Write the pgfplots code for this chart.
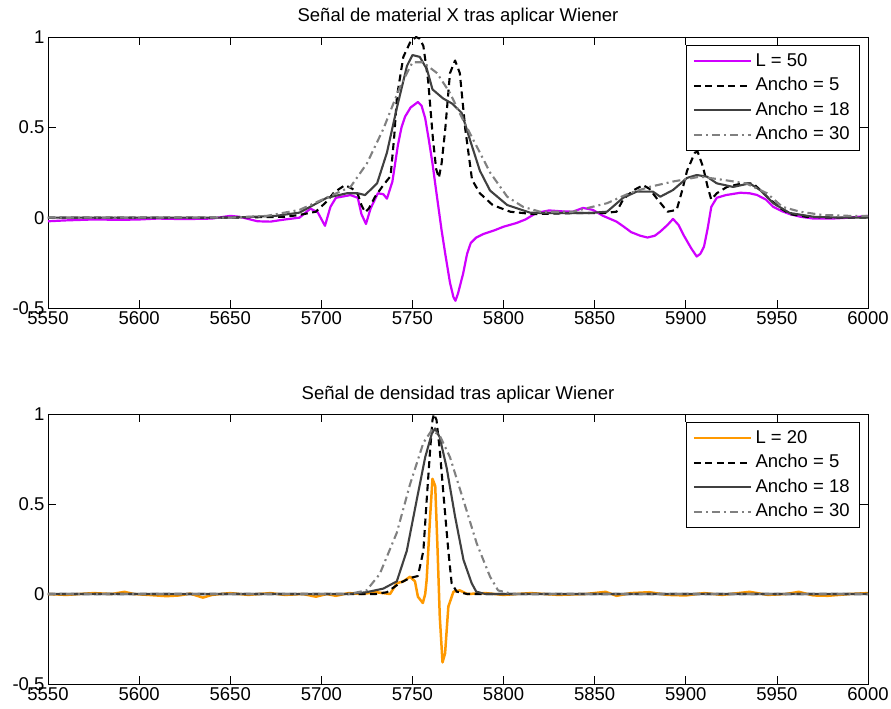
\documentclass[border=0pt]{standalone}
\usepackage{pgfplots}
\pgfplotsset{compat=1.18}
\usepackage{fontspec}
\setmainfont{Liberation Sans}
\definecolor{mag}{RGB}{208,0,255}
\definecolor{org}{RGB}{255,153,0}
\definecolor{dg}{RGB}{64,64,64}
\definecolor{lg}{RGB}{128,128,128}
\newcommand{\fs}{\fontsize{18.5}{22}\selectfont}
\pgfplotsset{
  mystyle/.style={
    scale only axis, width=820pt, height=271pt,
    xmin=5550, xmax=6000, ymin=-0.5, ymax=1,
    xtick={5550,5600,...,6000}, ytick={-0.5,0,0.5,1},
    scaled x ticks=false,
    xticklabel style={/pgf/number format/1000 sep={}},
    /pgf/number format/assume math mode=true,
    tick label style={font=\fs},
    yticklabel style={/pgf/number format/fixed},
    title style={font=\fs, at={(0.5,1)}, anchor=base, yshift=9pt},
    axis line style={black, line width=0.7pt},
    major tick style={black, line width=0.7pt},
    major tick length=8pt,
    tick align=inside,
    legend cell align=left,
    legend image code/.code={\draw[##1] (0pt,0pt) -- (57pt,0pt);},
    legend style={at={(1,1)}, anchor=north east, xshift=-8pt, yshift=-8pt,
      draw=black, line width=0.7pt, fill=white, font=\fs,
      inner xsep=6.5pt, inner ysep=3.5pt, row sep=0pt,
      nodes={inner xsep=3.5pt, inner ysep=3.25pt, text height=14pt, text depth=4pt}},
    every axis plot/.append style={line join=round},
  },
  s50/.style={mag, line width=2.2pt},
  s20/.style={org, line width=2.5pt},
  a5/.style={black, line width=2.1pt, dash pattern=on 7pt off 4.5pt},
  a18/.style={dg, line width=2.1pt},
  a30/.style={lg, line width=2.1pt, dash pattern=on 8pt off 4pt on 2pt off 4pt},
}
\begin{document}
\begin{tikzpicture}
\begin{axis}[mystyle, name=top, at={(0,0)}, anchor=north west,
  title={Señal de material X tras aplicar Wiener}]
\addplot[s50] coordinates {
(5550,-0.02) (5560,-0.015) (5575,-0.01) (5590,-0.012) (5600,-0.01) (5610,-0.005)
(5625,-0.008) (5640,-0.005) (5650,0.01) (5655,0.005) (5665,-0.02) (5672,-0.022)
(5680,-0.01) (5688,0.0) (5694,0.05) (5698,0.03) (5702,-0.045) (5705,0.06)
(5708,0.11) (5716,0.125) (5720,0.11) (5722,0.02) (5724.5,-0.035) (5727,0.05)
(5731,0.135) (5734,0.13) (5736,0.105) (5739,0.2) (5742,0.4) (5744,0.5)
(5746,0.56) (5749,0.61) (5753,0.64) (5755,0.62) (5757,0.55) (5759,0.43)
(5761,0.30) (5763,0.15) (5766,-0.07) (5768,-0.2) (5770.6,-0.36) (5772.5,-0.44)
(5773.6,-0.46) (5775,-0.42) (5777.8,-0.31) (5780,-0.2) (5782,-0.14) (5785,-0.11)
(5789,-0.09) (5795,-0.07) (5800,-0.05) (5807,-0.03) (5812,-0.01) (5818,0.026)
(5825,0.04) (5832,0.035) (5838,0.033) (5843.6,0.054) (5849,0.043) (5854.6,0.01)
(5862,-0.022) (5866,-0.05) (5870,-0.08) (5875,-0.1) (5879,-0.11) (5883,-0.1)
(5886,-0.077) (5890,-0.04) (5893,-0.007) (5896,-0.04) (5899,-0.1) (5903,-0.17)
(5906,-0.215) (5908,-0.2) (5910,-0.16) (5912,-0.06) (5914,0.06) (5917,0.11)
(5922,0.125) (5930,0.138) (5935,0.135) (5939,0.126) (5944,0.1) (5948,0.06)
(5953,0.035) (5957,0.02) (5963,0.005) (5970,-0.005) (5980,-0.005) (5990,0.0) (6000,0.01)
};
\addlegendentry{L = 50}
\addplot[a5] coordinates {
(5550,0) (5600,0) (5650,0) (5680,0.005) (5688,0.015) (5697,0.033) (5703,0.09)
(5707,0.14) (5713,0.18) (5717,0.16) (5720,0.13) (5722,0.07) (5724,0.03) (5726,0.05)
(5729.5,0.116) (5734,0.18) (5738,0.23) (5740,0.45) (5741.5,0.67) (5745,0.89)
(5748.7,0.97) (5752,1.0) (5754,0.99) (5756,0.95) (5758.6,0.76) (5761.3,0.43)
(5763,0.27) (5764.5,0.22) (5766,0.3) (5768,0.49) (5770.6,0.8) (5773.4,0.87)
(5776,0.8) (5779,0.49) (5782.7,0.21) (5787,0.135) (5794,0.07) (5803.6,0.033)
(5816,0.02) (5842,0.026) (5855,0.025) (5862,0.033) (5865.6,0.1) (5871,0.15)
(5876.6,0.18) (5880,0.16) (5884.6,0.1) (5890,0.033) (5895,0.043) (5898,0.15)
(5900.7,0.26) (5905,0.36) (5906.5,0.365) (5909.5,0.28) (5912,0.17) (5914,0.1)
(5917,0.135) (5922.6,0.17) (5931,0.19) (5937,0.19) (5944.6,0.116) (5951.7,0.054)
(5957,0.02) (5966,0.005) (5980,0) (6000,0)
};
\addlegendentry{Ancho = 5}
\addplot[a18] coordinates {
(5550,0) (5650,0) (5675,0.01) (5688,0.028) (5703,0.11) (5714,0.135) (5720,0.135)
(5724,0.125) (5730.6,0.19) (5736,0.36) (5741.5,0.61) (5747,0.84) (5750,0.9)
(5754,0.89) (5758,0.82) (5761,0.71) (5766.8,0.66) (5772,0.63) (5777,0.58)
(5781.6,0.43) (5787,0.26) (5792.6,0.15) (5802,0.07) (5814.5,0.028) (5820,0.026)
(5847,0.026) (5856.8,0.033) (5865.6,0.11) (5873,0.144) (5882,0.144) (5886,0.116)
(5893,0.153) (5900.7,0.22) (5906,0.236) (5911.6,0.227) (5917,0.19) (5926,0.17)
(5935,0.19) (5940.8,0.153) (5948,0.08) (5957,0.026) (5970,0.005) (5985,0) (6000,0)
};
\addlegendentry{Ancho = 18}
\addplot[a30] coordinates {
(5550,0) (5650,0) (5670,0.01) (5688,0.043) (5706,0.125) (5716,0.17) (5725,0.3)
(5734,0.49) (5743,0.72) (5750,0.86) (5755.8,0.86) (5763.5,0.8) (5770.6,0.69)
(5777.8,0.54) (5785.5,0.39) (5792.6,0.25) (5802,0.116) (5810.7,0.06) (5820,0.033)
(5838,0.033) (5856.8,0.08) (5869,0.135) (5880,0.17) (5893,0.2) (5907.8,0.227)
(5920,0.21) (5933,0.19) (5944.6,0.135) (5953,0.06) (5962.7,0.033) (5975,0.015)
(5990,0.01) (6000,0.01)
};
\addlegendentry{Ancho = 30}
\end{axis}
\begin{axis}[mystyle, height=270pt, at={(top.north west)}, anchor=north west, yshift=-377pt,
  title={Señal de densidad tras aplicar Wiener}]
\addplot[s20] coordinates {
(5550,0) (5560,-0.005) (5575,0.005) (5585,0) (5592,0.012) (5597,0) (5605,-0.005)
(5615,-0.012) (5622,-0.008) (5628,0.002) (5635,-0.02) (5640,-0.005) (5650,0.005)
(5660,-0.005) (5672,0.005) (5680,-0.005) (5690,0) (5697,-0.015) (5703,0)
(5708,-0.01) (5715,0.005) (5722,0) (5730,0.01) (5737.7,0) (5741.4,0.06)
(5745,0.07) (5748.7,0.096) (5751.4,0.07) (5753,-0.015) (5755.7,-0.05) (5757,0.0)
(5757.8,0.078) (5759.7,0.43) (5761,0.64) (5762.5,0.6) (5763.8,0.24) (5765,-0.126)
(5766.5,-0.38) (5767.9,-0.33) (5769.7,-0.07) (5772.5,0.013) (5776,0.02) (5780,0)
(5790,0.005) (5800,-0.005) (5815,0.005) (5830,-0.005) (5845,0) (5856,0.012)
(5862,-0.01) (5870,0.005) (5880,0.01) (5890,-0.005) (5900,-0.008) (5910,0.005)
(5920,-0.005) (5935,0.012) (5945,-0.005) (5955,0) (5962,0.012) (5970,-0.008)
(5978,-0.01) (5990,0) (6000,0.005)
};
\addlegendentry{L = 20}
\addplot[a5] coordinates {
(5550,0) (5730,0) (5736,0.01) (5743,0.06) (5748.7,0.089) (5753,0.1) (5756,0.24)
(5757.8,0.52) (5759.7,0.8) (5761,0.967) (5761.8,1.0) (5763.2,0.967) (5765,0.8)
(5767.3,0.52) (5769.7,0.24) (5771.5,0.06) (5774.3,0.013) (5780,0) (6000,0)
};
\addlegendentry{Ancho = 5}
\addplot[a18] coordinates {
(5550,0) (5715,0) (5724.8,0.01) (5734,0.03) (5741.4,0.07) (5746.9,0.24)
(5752.3,0.52) (5757,0.76) (5760.6,0.89) (5762.4,0.92) (5765,0.87) (5768.8,0.7)
(5773.4,0.43) (5778,0.19) (5782.5,0.06) (5785,0.013) (5790,0) (6000,0)
};
\addlegendentry{Ancho = 18}
\addplot[a30] coordinates {
(5550,0) (5715,0) (5724.8,0.02) (5732,0.11) (5741.4,0.34) (5748.7,0.61)
(5756,0.84) (5760.6,0.91) (5765,0.88) (5770.6,0.76) (5778,0.52) (5785.3,0.28)
(5792.6,0.096) (5797,0.02) (5805,0) (6000,0)
};
\addlegendentry{Ancho = 30}
\end{axis}
\pgfresetboundingbox
\path (top.north west) ++(-48pt,37pt) rectangle ++(891pt,-709pt);
\end{tikzpicture}
\end{document}
